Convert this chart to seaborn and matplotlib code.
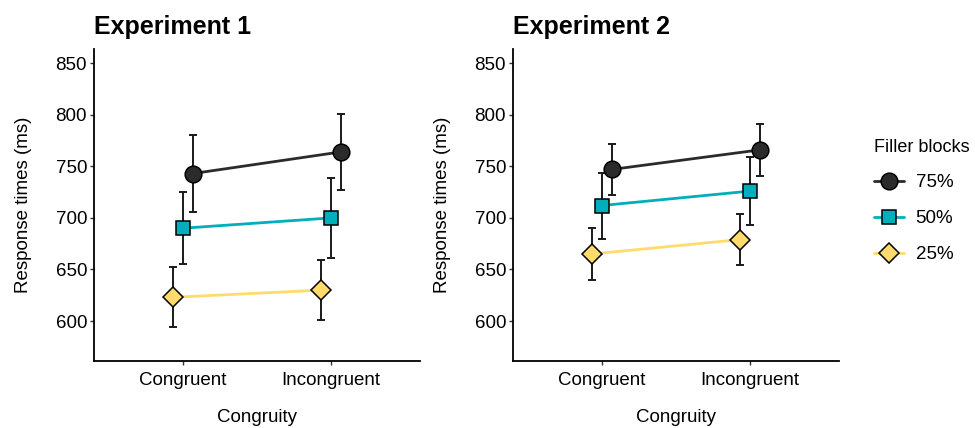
import matplotlib.pyplot as plt
import matplotlib.lines as mlines
import seaborn as sns
import pandas as pd
import numpy as np

# Data (means and half-width of the error bars, ms)
conditions=["Congruent","Incongruent"]
blocks=["75%","50%","25%"]

exp1_mean={"75%":[743,764],"50%":[690,700],"25%":[623,630]}
exp1_err={"75%":[37,37],"50%":[35,39],"25%":[29,29]}

exp2_mean={"75%":[747,766],"50%":[712,726],"25%":[665,679]}
exp2_err={"75%":[25,25],"50%":[32,33],"25%":[25,25]}

palette={"75%":"#2b2b2b","50%":"#00AFBB","25%":"#FFDB6D"}
markers={"75%":"o","50%":"s","25%":"D"}
msizes={"75%":12,"50%":10.5,"25%":9.8}
dodge={"75%":0.067,"50%":0.0,"25%":-0.067}

sns.set_theme(style="ticks")
plt.rcParams['font.family']=['Liberation Sans','DejaVu Sans']
plt.rcParams['text.color']="black"
plt.rcParams['axes.labelcolor']="black"


def make_df(means,errs):
	rows=[]
	for b in blocks:
		for i,c in enumerate(conditions):
			rows.append([c,b,i+dodge[b],means[b][i],errs[b][i]])
	return pd.DataFrame(rows,columns=["congruity","block","pos","rt","err"])


def draw_panel(ax,df,title):
	for b in blocks:
		sub=df[df["block"]==b]
		ax.errorbar(sub["pos"],sub["rt"],yerr=sub["err"],fmt="none",ecolor="#1a1a1a",
					elinewidth=1.4,capsize=2.8,capthick=1.4,zorder=2)
		sns.lineplot(data=sub,x="pos",y="rt",color=palette[b],marker=markers[b],
					markersize=msizes[b],markeredgecolor="black",markeredgewidth=1.1,
					linewidth=2.0,legend=False,zorder=3,ax=ax)

	ax.set_xlim(-0.6,1.6)
	ax.set_ylim(561.25,863.75)
	ax.set_xticks(range(len(conditions)))
	ax.set_xticklabels(conditions)
	ax.set_yticks([600,650,700,750,800,850])
	ax.tick_params(axis="both",labelsize=13.5,length=3,width=1.0,color="#333333",pad=2,labelcolor="black")
	ax.tick_params(axis="x",pad=5)
	ax.set_xlabel("Congruity",fontsize=13.5,labelpad=14,color="black")
	ax.set_ylabel("Response times (ms)",fontsize=13.5,labelpad=17,color="black")
	ax.set_title(title,loc="left",fontsize=18,fontweight="bold",pad=11,color="black")
	for s in ["left","bottom"]:
		ax.spines[s].set_linewidth(1.3)
		ax.spines[s].set_color("black")
	sns.despine(ax=ax)


fig=plt.figure(figsize=(9.75,4.28),dpi=100)
ax1=fig.add_axes([0.0964,0.1565,0.3344,0.7290])
ax2=fig.add_axes([0.5262,0.1565,0.3344,0.7290])

draw_panel(ax1,make_df(exp1_mean,exp1_err),"Experiment 1")
draw_panel(ax2,make_df(exp2_mean,exp2_err),"Experiment 2")

# Legend
handles=[mlines.Line2D([],[],color=palette[b],marker=markers[b],markersize=msizes[b],
		markeredgecolor="black",markeredgewidth=1.1,linewidth=2.0) for b in blocks]
fig.legend(handles,blocks,title="Filler blocks",loc="upper left",bbox_to_anchor=(0.893,0.685),
		frameon=False,fontsize=13.5,title_fontsize=13,handlelength=1.6,labelspacing=1.0,
		handletextpad=0.6,alignment="left",borderaxespad=0,borderpad=0.2)

fig.savefig("out.png",dpi=100)
